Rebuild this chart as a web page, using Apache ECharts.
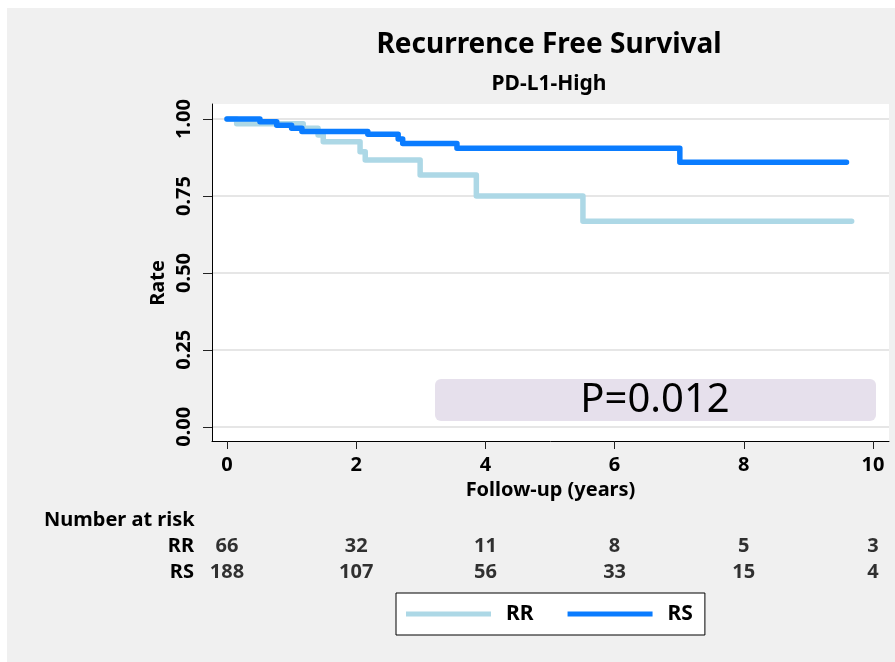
<!DOCTYPE html>
<html>
<head>
<meta charset="utf-8">
<script src="https://cdn.jsdelivr.net/npm/echarts@6/dist/echarts.min.js"></script>
<style>
html,body{margin:0;padding:0;background:#ffffff;}
#c{width:895px;height:662px;}
</style>
</head>
<body>
<div id="c"></div>
<script>
// Kaplan-Meier step points: [time in years, survival after event]
var rrTimes = [0, 0.15, 1.18, 1.41, 1.49, 2.06, 2.14, 2.99, 3.86, 5.51, 9.67];
var rrSurv  = [1.0, 0.985, 0.970, 0.948, 0.926, 0.894, 0.867, 0.818, 0.750, 0.668, 0.668];
var rsTimes = [0, 0.51, 0.77, 1.0, 1.16, 2.18, 2.65, 2.72, 3.56, 7.01, 9.59];
var rsSurv  = [1.0, 0.991, 0.980, 0.970, 0.960, 0.951, 0.935, 0.921, 0.905, 0.860, 0.860];

var xTicks = [0, 2, 4, 6, 8, 10];
var yTicks = [0, 0.25, 0.5, 0.75, 1.0];

var riskTimes = [0, 2, 4, 6, 8, 10];
var riskRR = [66, 32, 11, 8, 5, 3];
var riskRS = [188, 107, 56, 33, 15, 4];
var groups = ['RR', 'RS'];

var pText = 'P=0.012';

var FONT = '"Noto Sans", "DejaVu Sans", sans-serif';

function pairs(t, s) { return t.map(function (v, i) { return [v, s[i]]; }); }

var riskData = [];
riskTimes.forEach(function (t, i) {
  riskData.push([t, 'RR', riskRR[i]]);
  riskData.push([t, 'RS', riskRS[i]]);
});

var xMin = -0.232, xMax = 10.248;

var chart = echarts.init(document.getElementById('c'), null, {renderer: 'canvas'});
chart.setOption({
  animation: false,
  backgroundColor: '#ffffff',
  textStyle: {fontFamily: FONT},
  title: [
    {text: 'Recurrence Free Survival', left: 549, top: 28, textAlign: 'center', padding: 0,
     textStyle: {fontFamily: FONT, fontSize: 28, fontWeight: 'bold', color: '#000', lineHeight: 34}},
    {text: 'PD-L1-High', left: 549, top: 72, textAlign: 'center', padding: 0,
     textStyle: {fontFamily: FONT, fontSize: 21, fontWeight: 'bold', color: '#000', lineHeight: 24}}
  ],
  graphic: [
    {type: 'rect', z: -10, silent: true, shape: {x: 7, y: 8, width: 888, height: 654}, style: {fill: '#f0f0f0'}},
    {type: 'rect', z: -9, silent: true, shape: {x: 212, y: 104, width: 677, height: 337}, style: {fill: '#ffffff'}},
    {type: 'rect', z: 50, silent: true, shape: {x: 435, y: 379, width: 441, height: 42, r: 6}, style: {fill: '#e6e0ec'}},
    {type: 'text', z: 51, silent: true, x: 655, y: 401, style: {text: pText, fontFamily: FONT, fontSize: 40, fill: '#000', align: 'center', verticalAlign: 'middle'}},
    {type: 'text', silent: true, x: 158, y: 283, rotation: Math.PI / 2, style: {text: 'Rate', fontFamily: FONT, fontSize: 20, fontWeight: 'bold', fill: '#000', align: 'center', verticalAlign: 'middle'}},
    {type: 'text', silent: true, x: 44, y: 520, style: {text: 'Number at risk', fontFamily: FONT, fontSize: 20, fontWeight: 'bold', fill: '#000', align: 'left', verticalAlign: 'middle'}}
  ],
  legend: {
    left: 396, top: 593,
    orient: 'horizontal',
    backgroundColor: '#ffffff',
    borderColor: '#000', borderWidth: 1, borderRadius: 0,
    padding: [10, 12, 10, 10],
    itemGap: 34,
    itemWidth: 85, itemHeight: 5,
    icon: 'rect',
    selectedMode: false,
    data: ['RR', 'RS'],
    textStyle: {fontFamily: FONT, fontSize: 21, fontWeight: 'bold', color: '#000', padding: [0, 0, 0, 10], lineHeight: 22}
  },
  grid: [
    {left: 212, top: 104, width: 677, height: 337, containLabel: false},
    {left: 212, top: 533, width: 677, height: 52, containLabel: false}
  ],
  xAxis: [
    {
      type: 'value', gridIndex: 0, min: xMin, max: xMax,
      name: 'Follow-up (years)', nameLocation: 'middle', nameGap: 38,
      nameTextStyle: {fontFamily: FONT, fontSize: 20, fontWeight: 'bold', color: '#000', lineHeight: 20},
      axisLine: {show: true, onZero: false, lineStyle: {color: '#000', width: 1}},
      axisTick: {show: true, length: 8, lineStyle: {color: '#222'}, customValues: xTicks},
      axisLabel: {show: true, margin: 14, customValues: xTicks, fontFamily: FONT, fontSize: 20, fontWeight: 'bold', color: '#000'},
      splitLine: {show: false}
    },
    {type: 'value', gridIndex: 1, min: xMin, max: xMax, show: false}
  ],
  yAxis: [
    {
      type: 'value', gridIndex: 0, min: -0.046, max: 1.049,
      axisLine: {show: true, onZero: false, lineStyle: {color: '#000', width: 1}},
      axisTick: {show: true, length: 9, lineStyle: {color: '#222'}, customValues: yTicks},
      axisLabel: {show: true, rotate: 90, margin: 18, customValues: yTicks, fontFamily: FONT, fontSize: 20, fontWeight: 'bold', color: '#000',
                  formatter: function (v) { return v.toFixed(2); }},
      splitLine: {show: true, lineStyle: {color: '#e6e6e6', width: 2}}
    },
    {
      type: 'category', gridIndex: 1, data: groups, inverse: true,
      axisLine: {show: false}, axisTick: {show: false}, splitLine: {show: false},
      axisLabel: {show: true, interval: 0, hideOverlap: false, margin: 18, fontFamily: FONT, fontSize: 20, fontWeight: 'bold', color: '#000'}
    }
  ],
  series: [
    {
      name: 'RR', type: 'line', xAxisIndex: 0, yAxisIndex: 0, step: 'end',
      data: pairs(rrTimes, rrSurv), showSymbol: false, symbol: 'none', silent: true,
      color: '#add8e6',
      itemStyle: {color: '#add8e6'},
      lineStyle: {color: '#add8e6', width: 5.5, cap: 'round', join: 'round'},
      z: 3
    },
    {
      name: 'RS', type: 'line', xAxisIndex: 0, yAxisIndex: 0, step: 'end',
      data: pairs(rsTimes, rsSurv), showSymbol: false, symbol: 'none', silent: true,
      color: '#0a7cff',
      itemStyle: {color: '#0a7cff'},
      lineStyle: {color: '#0a7cff', width: 5.5, cap: 'round', join: 'round'},
      z: 4
    },
    {
      name: 'risk', type: 'scatter', xAxisIndex: 1, yAxisIndex: 1, silent: true,
      data: riskData, symbolSize: 1, itemStyle: {color: 'rgba(0,0,0,0)'},
      label: {show: true, position: 'inside', formatter: function (p) { return String(p.value[2]); },
              fontFamily: FONT, fontSize: 20, fontWeight: 'bold', color: '#000'}
    }
  ]
});
</script>
</body>
</html>
